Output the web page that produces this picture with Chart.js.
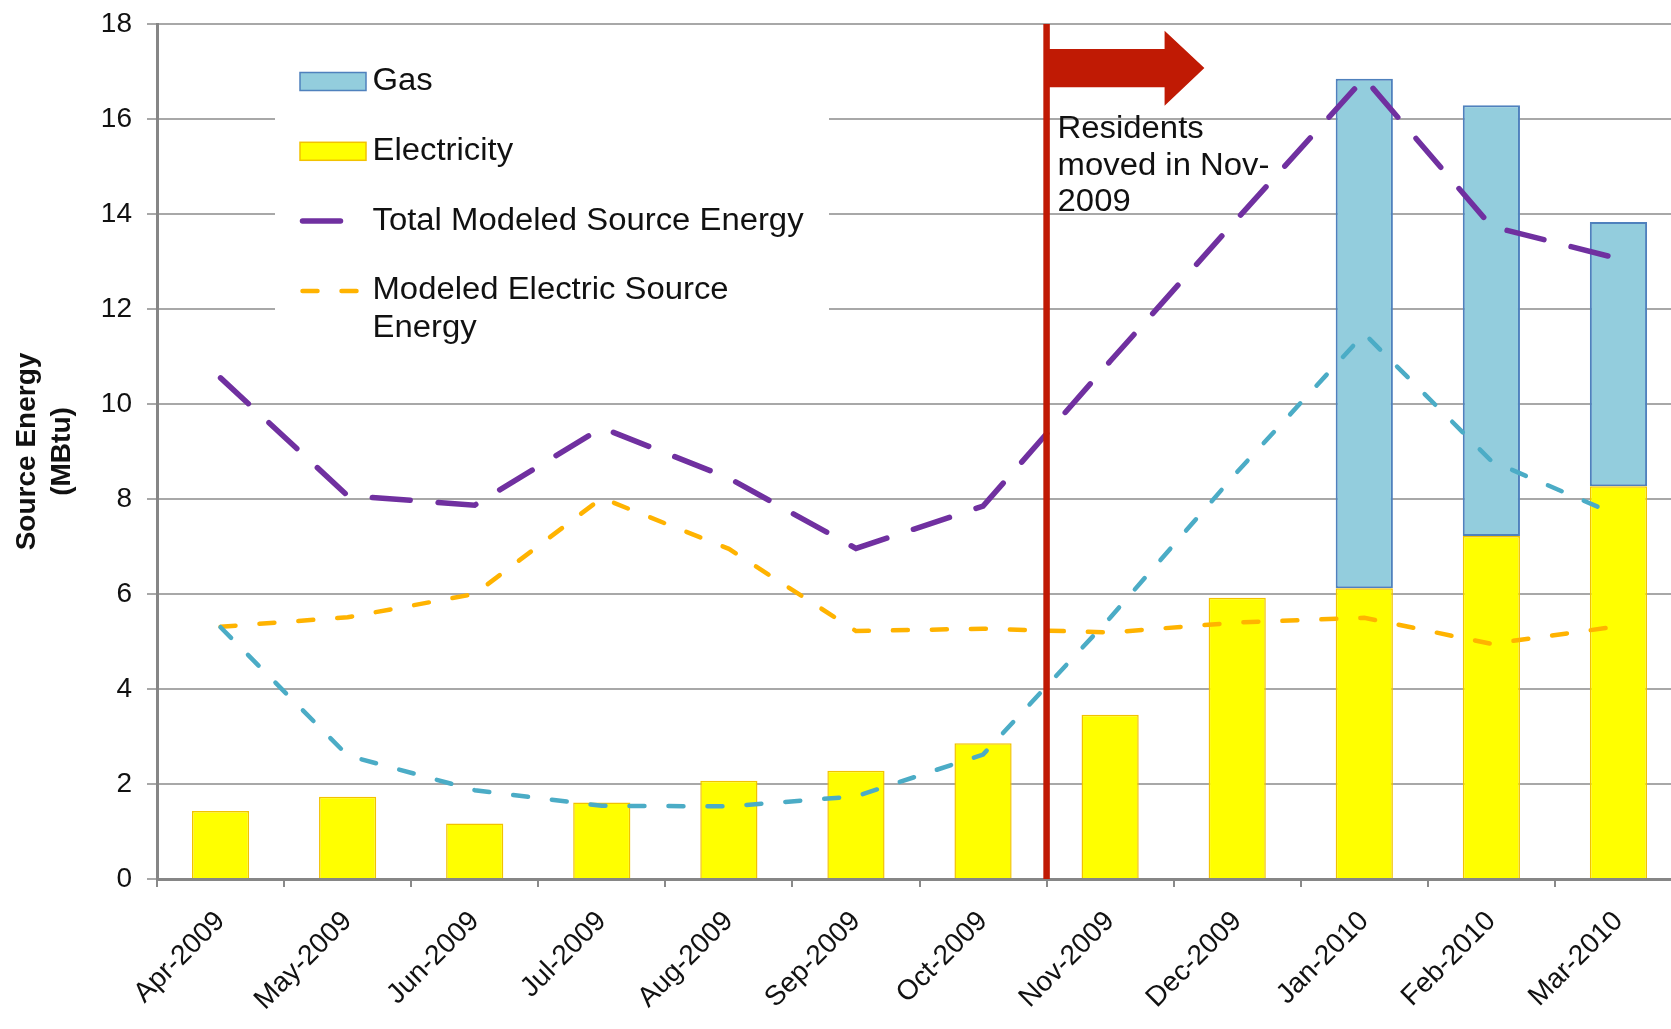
<!DOCTYPE html>
<html>
<head>
<meta charset="utf-8">
<title>Source Energy (MBtu)</title>
<script src="https://cdn.jsdelivr.net/npm/chart.js@4"></script>
<style>
    html, body { margin: 0; padding: 0; overflow: hidden; background: #fff; }
    canvas { display: block; }
</style>
</head>
<body>
<canvas id="chart" width="1700" height="1029"></canvas>
<script>
// Monthly metered vs modeled source energy, MBtu
const months = ['Apr-2009', 'May-2009', 'Jun-2009', 'Jul-2009', 'Aug-2009', 'Sep-2009',
                'Oct-2009', 'Nov-2009', 'Dec-2009', 'Jan-2010', 'Feb-2010', 'Mar-2010'];
const electricity = [1.43, 1.73, 1.17, 1.61, 2.07, 2.28, 2.86, 3.46, 5.92, 6.12, 7.22, 8.27];
const gas = [null, null, null, null, null, null, null, null, null, 10.73, 9.07, 5.56];
const totalModeled = [10.55, 8.07, 7.87, 9.5, 8.44, 6.96, 7.85, 10.9, 13.9, 16.86, 13.74, 13.06];
const electricModeled = [5.31, 5.51, 6.0, 8.02, 6.95, 5.22, 5.27, 5.19, 5.4, 5.5, 4.95, 5.32];
const gasModeled = [5.3, 2.6, 1.87, 1.54, 1.53, 1.74, 2.62, 5.5, 8.57, 11.48, 8.8, 7.65];

const yMin = 0, yMax = 18, yStep = 2;

// move-in marker goes on the boundary after this month
const moveInAfter = 'Oct-2009';
const noteLines = ['Residents', 'moved in Nov-', '2009'];
const legendOrder = ['Gas', 'Electricity', 'Total Modeled Source Energy', 'Modeled Electric Source Energy'];

const FONT = "'Liberation Sans', Arial, sans-serif";
const TEXT = '#111';
const RED = '#C01A04';
const WIDEN = 1.06;   // overlay text is set a touch wider than the font

Chart.defaults.font.family = FONT;
Chart.defaults.color = TEXT;

function wideText(ctx, str, x, y) {
    ctx.save();
    ctx.translate(x, y);
    ctx.scale(WIDEN, 1);
    ctx.fillText(str, 0, 0);
    ctx.restore();
}

// Legend box, move-in line, arrow and note
const overlay = {
    id: 'overlay',
    beforeDatasetsDraw(chart) {
        const {ctx, chartArea: area} = chart;
        const left = area.left, top = area.top;
        ctx.save();
        ctx.fillStyle = '#fff';
        ctx.fillRect(left + 118, top + 15, 554, 330);

        ctx.font = '31px ' + FONT;
        ctx.textBaseline = 'middle';
        const sx = left + 143;
        const tx = left + 215.5;
        let rowY = top + 57.5;
        legendOrder.forEach(name => {
            const ds = chart.data.datasets.find(d => d.label === name);
            if (ds.type === 'bar') {
                ctx.fillStyle = ds.backgroundColor;
                ctx.fillRect(sx, rowY - 9, 66, 18);
                ctx.strokeStyle = ds.borderColor;
                ctx.lineWidth = 1.5;
                ctx.strokeRect(sx, rowY - 9, 66, 18);
            } else {
                ctx.strokeStyle = ds.borderColor;
                ctx.lineWidth = ds.borderWidth;
                ctx.lineCap = 'round';
                ctx.setLineDash(ds.borderDash);
                ctx.beginPath();
                ctx.moveTo(sx + 2.5, rowY);
                ctx.lineTo(sx + 59, rowY);
                ctx.stroke();
                ctx.setLineDash([]);
            }
            // wrap long labels onto a second line
            const words = name.split(' ');
            const lines = [];
            let cur = '';
            words.forEach(w => {
                const test = cur ? cur + ' ' + w : w;
                if (ctx.measureText(test).width * WIDEN > 450 && cur) {
                    lines.push(cur);
                    cur = w;
                } else {
                    cur = test;
                }
            });
            lines.push(cur);
            ctx.fillStyle = TEXT;
            lines.forEach((ln, i) => wideText(ctx, ln, tx, rowY + i * 37.5));
            rowY += 69.8;
        });
        ctx.restore();
    },
    afterDatasetsDraw(chart) {
        const {ctx, chartArea: area, scales: {x}} = chart;
        const i = months.indexOf(moveInAfter);
        const mx = (x.getPixelForValue(i) + x.getPixelForValue(i + 1)) / 2;
        const top = area.top;
        ctx.save();
        ctx.strokeStyle = RED;
        ctx.lineWidth = 6.5;
        ctx.beginPath();
        ctx.moveTo(mx, top);
        ctx.lineTo(mx, area.bottom);
        ctx.stroke();

        ctx.fillStyle = RED;
        ctx.beginPath();
        ctx.moveTo(mx, top + 25);
        ctx.lineTo(mx + 118, top + 25);
        ctx.lineTo(mx + 118, top + 6.7);
        ctx.lineTo(mx + 157.8, top + 44);
        ctx.lineTo(mx + 118, top + 81.7);
        ctx.lineTo(mx + 118, top + 63.3);
        ctx.lineTo(mx, top + 63.3);
        ctx.closePath();
        ctx.fill();

        ctx.fillStyle = TEXT;
        ctx.font = '31px ' + FONT;
        ctx.textBaseline = 'alphabetic';
        noteLines.forEach((ln, k) => wideText(ctx, ln, mx + 11, top + 114.3 + k * 36.4));
        ctx.restore();
    }
};

const ctx = document.getElementById('chart').getContext('2d');
new Chart(ctx, {
    data: {
        labels: months,
        datasets: [
            {
                type: 'line',
                label: 'Total Modeled Source Energy',
                data: totalModeled,
                borderColor: '#7030A0',
                borderWidth: 5.5,
                borderDash: [38, 28],
                borderCapStyle: 'round',
                pointRadius: 0,
                fill: false,
                tension: 0,
                stack: 'total'
            },
            {
                type: 'line',
                label: 'Modeled Gas Source Energy',
                data: gasModeled,
                borderColor: '#4BACC6',
                borderWidth: 4.5,
                borderDash: [15, 24],
                borderCapStyle: 'round',
                pointRadius: 0,
                fill: false,
                tension: 0,
                stack: 'gasModel'
            },
            {
                type: 'line',
                label: 'Modeled Electric Source Energy',
                data: electricModeled,
                borderColor: '#FFB300',
                borderWidth: 4.5,
                borderDash: [15, 24],
                borderCapStyle: 'round',
                pointRadius: 0,
                fill: false,
                tension: 0,
                stack: 'elecModel'
            },
            {
                type: 'bar',
                label: 'Electricity',
                data: electricity,
                backgroundColor: '#FFFF00',
                borderColor: '#F2C200',
                borderWidth: 1.5,
                barPercentage: 0.45,
                categoryPercentage: 1,
                stack: 'metered'
            },
            {
                type: 'bar',
                label: 'Gas',
                data: gas,
                backgroundColor: '#93CDDD',
                borderColor: '#4F81BD',
                borderWidth: 2,
                borderSkipped: false,
                barPercentage: 0.45,
                categoryPercentage: 1,
                stack: 'metered'
            }
        ]
    },
    options: {
        responsive: false,
        animation: false,
        layout: {
            padding: {left: 0, top: 24, right: 18, bottom: 0}
        },
        plugins: {
            legend: {display: false},
            tooltip: {enabled: false}
        },
        scales: {
            x: {
                stacked: true,
                grid: {
                    drawOnChartArea: false,
                    drawTicks: true,
                    tickLength: 8,
                    color: '#8A8A8A',
                    lineWidth: 2
                },
                border: {display: true, color: '#868686', width: 3},
                ticks: {
                    autoSkip: false,
                    maxRotation: 45,
                    minRotation: 45,
                    padding: 18,
                    font: {size: 28}
                },
                afterFit(scale) {
                    scale.height = 150;
                }
            },
            y: {
                stacked: true,
                min: yMin,
                max: yMax,
                ticks: {
                    stepSize: yStep,
                    padding: 15,
                    font: {size: 28}
                },
                grid: {
                    color: '#A8A8A8',
                    lineWidth: 2,
                    tickLength: 10
                },
                border: {display: true, color: '#868686', width: 3},
                title: {
                    display: true,
                    text: ['Source Energy', '(MBtu)'],
                    font: {size: 28, weight: 'bold', lineHeight: 1.25},
                    padding: {top: 10, bottom: 0}
                },
                afterFit(scale) {
                    scale.width = 157;
                    // the tick padding is horizontal only; keep it out of the top margin
                    scale.paddingTop = 17;
                    scale.paddingBottom = 17;
                }
            }
        }
    },
    plugins: [overlay]
});
</script>
</body>
</html>
